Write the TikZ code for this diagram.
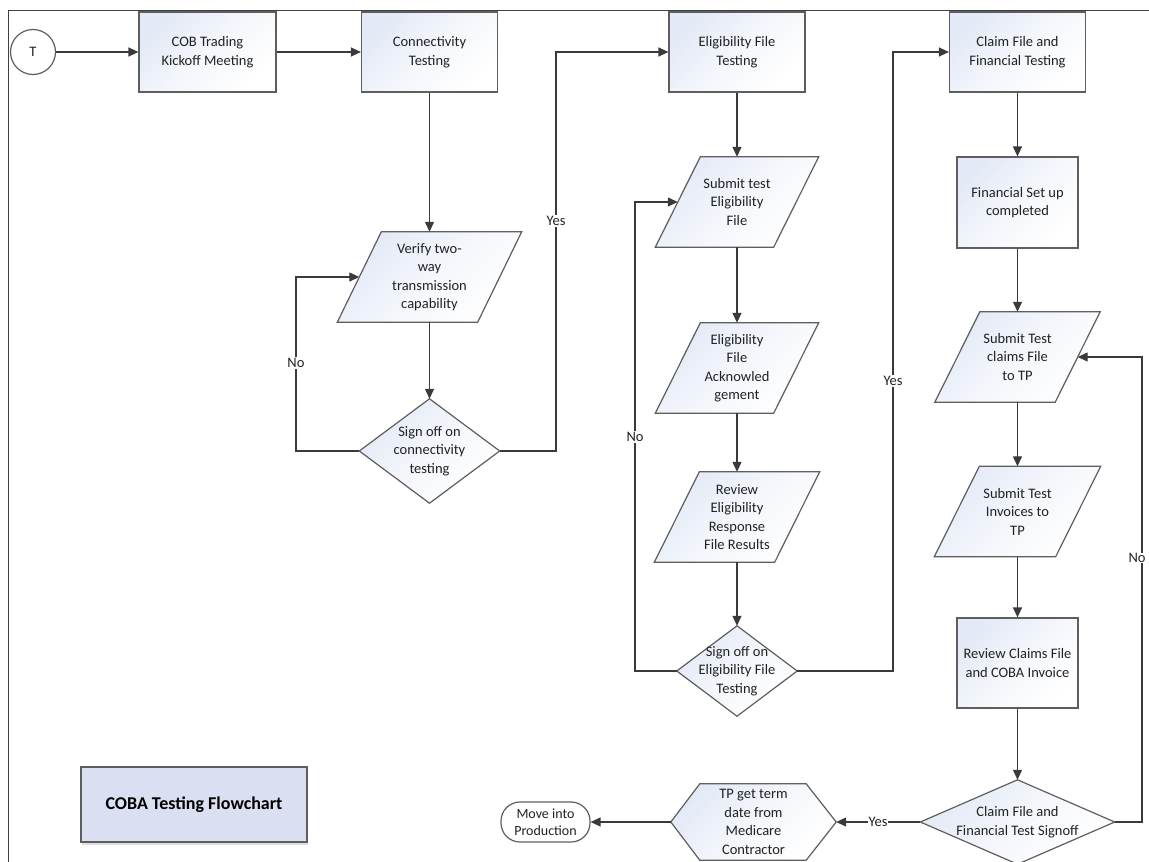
\documentclass[tikz,border=0pt]{standalone}
\usepackage{fontspec}
\setmainfont{Carlito}
\usetikzlibrary{calc,backgrounds,arrows.meta,shadows}
\definecolor{edgeC}{HTML}{5E5E5E}
\definecolor{lineC}{HTML}{3A3A3A}
\definecolor{fillB}{HTML}{E3E9F6}
\definecolor{titleB}{HTML}{DAE0F1}
\definecolor{textC}{HTML}{222222}
\tikzset{
  txt/.style={font=\fontsize{14.5}{18.5}\selectfont, align=center, text=textC},
  boxnode/.style={txt, draw=edgeC, line width=1.2pt, top color=fillB, bottom color=white, middle color=white!60!fillB, shading angle=45, inner sep=2pt},
  ghost/.style={txt, draw=none, inner sep=0pt},
  shapefill/.style={draw=edgeC, line width=1.2pt, top color=fillB, bottom color=white, middle color=white!60!fillB, shading angle=45, line join=miter},
  conn/.style={draw=lineC, line width=1.3pt, -{Triangle[length=10pt,width=9pt]}},
  lbl/.style={txt, fill=white, inner sep=1.5pt},
}
\newcommand{\mkpara}[6]{%
  \node[ghost, minimum width=#4, minimum height=90] (#1) at (#2,#3) {#6};
  \begin{pgfonlayer}{background}
    \path[shapefill] ($(#1.north west)+(#5/2,0)$) -- ($(#1.north east)+(#5/2,0)$)
      -- ($(#1.south east)-(#5/2,0)$) -- ($(#1.south west)-(#5/2,0)$) -- cycle;
  \end{pgfonlayer}}
\newcommand{\mkdiam}[6]{%
  \node[ghost, minimum width=2*#4, minimum height=2*#5] (#1) at (#2,#3) {#6};
  \begin{pgfonlayer}{background}
    \path[shapefill] (#1.north) -- (#1.east) -- (#1.south) -- (#1.west) -- cycle;
  \end{pgfonlayer}}
\begin{document}
\begin{tikzpicture}[x=1pt,y=-1pt]
\useasboundingbox (0,0) rectangle (1149,862);
% frame
\draw[black!75, line width=1pt] (8,862) -- (8,10) -- (1149,10);

% start
\node[txt, circle, draw=edgeC, line width=1.2pt, fill=white, minimum size=45, inner sep=0pt] (t) at (33,52) {T};

% top row
\node[boxnode, minimum width=137, minimum height=80] (cob) at (207.5,52) {COB Trading\\Kickoff Meeting};
\node[boxnode, minimum width=136, minimum height=80] (con) at (429.5,52) {Connectivity\\Testing};
\node[boxnode, minimum width=136, minimum height=80] (eli) at (737,52) {Eligibility File\\Testing};
\node[boxnode, minimum width=136, minimum height=80] (cla) at (1017.5,52) {Claim File and\\Financial Testing};

% column 1
\mkpara{p1}{429.5}{277}{140}{44}{Verify two-\\way\\transmission\\capability}
\mkdiam{d1}{429.5}{451}{70}{52}{Sign off on\\connectivity\\testing}

% column 2
\mkpara{p2}{737}{202}{118}{45}{Submit test\\Eligibility\\File}
\mkpara{p3}{737}{368}{118}{45}{Eligibility\\File\\Acknowled\\gement}
\mkpara{p4}{737}{517}{120}{45}{Review\\Eligibility\\Response\\File Results}
\mkdiam{d2}{737}{671}{60}{45}{Sign off on\\Eligibility File\\Testing}

% column 3
\node[boxnode, minimum width=121, minimum height=91] (fin) at (1017.5,202.5) {Financial Set up\\completed};
\mkpara{p5}{1017.5}{357}{120}{45}{Submit Test\\claims File\\to TP}
\mkpara{p6}{1017.5}{511.5}{121}{45}{Submit Test\\Invoices to\\TP}
\node[boxnode, minimum width=121, minimum height=90] (rev) at (1017.5,663) {Review Claims File\\and COBA Invoice};
\mkdiam{d3}{1017.5}{822}{97}{42}{Claim File and\\Financial Test Signoff}

% bottom row
\node[ghost, minimum width=165, minimum height=76] (hex) at (753.5,822) {TP get term\\date from\\Medicare\\Contractor};
\begin{pgfonlayer}{background}
  \path[shapefill] (hex.west) -- ($(hex.north west)+(29,0)$) -- ($(hex.north east)-(30,0)$)
    -- (hex.east) -- ($(hex.south east)-(30,0)$) -- ($(hex.south west)+(29,0)$) -- cycle;
\end{pgfonlayer}
\node[txt, font=\fontsize{14}{17.5}\selectfont, draw=edgeC, line width=1.2pt, fill=white, rounded corners=19pt,
      minimum width=89, minimum height=40, inner sep=1pt] (mp) at (545.5,822) {Move into\\Production};

% title
\node[draw=edgeC, line width=1.2pt, fill=titleB, minimum width=226, minimum height=75,
      font=\fontsize{18}{22}\selectfont\bfseries, text=black,
      drop shadow={shadow xshift=1pt, shadow yshift=-2.5pt, opacity=0.25}] (title) at (194,804.5) {COBA Testing Flowchart};

% bend points
\coordinate (b1) at (296,451);
\coordinate (b2) at (556,451);
\coordinate (b3) at (635,671);
\coordinate (b4) at (893,671);
\coordinate (b5) at (1142,822);

% connectors
\draw[conn] (t.east) -- (cob.west);
\draw[conn] (cob.east) -- (con.west);
\draw[conn] (con.south) -- (p1.north);
\draw[conn] (p1.south) -- (d1.north);
\draw[conn] (d1.west) -- (b1) |- (p1.west);
\draw[conn] (d1.east) -- (b2) |- (eli.west);
\draw[conn] (eli.south) -- (p2.north);
\draw[conn] (p2.south) -- (p3.north);
\draw[conn] (p3.south) -- (p4.north);
\draw[conn] (p4.south) -- (d2.north);
\draw[conn] (d2.west) -- (b3) |- (p2.west);
\draw[conn] (d2.east) -- (b4) |- (cla.west);
\draw[conn] (cla.south) -- (fin.north);
\draw[conn] (fin.south) -- (p5.north);
\draw[conn] (p5.south) -- (p6.north);
\draw[conn] (p6.south) -- (rev.north);
\draw[conn] (rev.south) -- (d3.north);
\draw[conn] (d3.east) -- (b5) |- (p5.east);
\draw[conn] (d3.west) -- (hex.east);
\draw[conn] (hex.west) -- (mp.east);

% labels
\node[lbl] (ln1) at (296,363) {No};
\node[lbl] (ly1) at (556,221) {Yes};
\node[lbl] (ln2) at (635,437) {No};
\node[lbl] (ly2) at (893,381) {Yes};
\node[lbl, inner sep=0.5pt] (ln3) at (1137,558) {No};
\node[lbl, inner sep=0.5pt] (ly3) at (878,822) {Yes};
\end{tikzpicture}
\end{document}
